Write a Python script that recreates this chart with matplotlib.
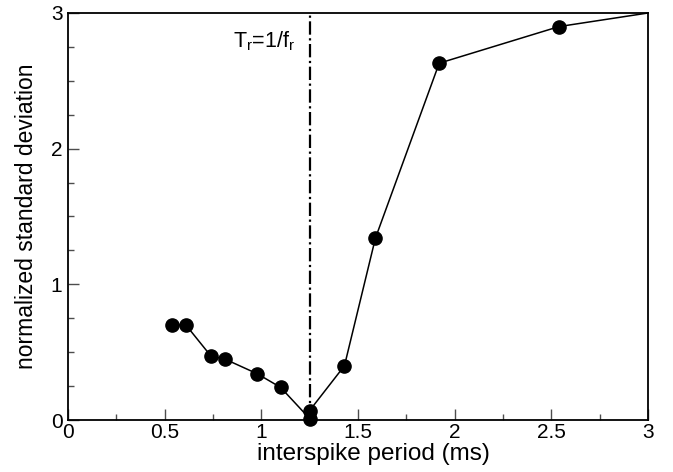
import matplotlib
matplotlib.use('Agg')
import matplotlib.pyplot as plt
from matplotlib.ticker import MultipleLocator

plt.rcParams['font.family'] = ['Liberation Sans', 'DejaVu Sans']
plt.rcParams['mathtext.fontset'] = 'custom'
plt.rcParams['mathtext.rm'] = 'Liberation Sans'
plt.rcParams['mathtext.it'] = 'Liberation Sans'

# interspike period (ms) vs normalized standard deviation
period = [0.54, 0.61, 0.74, 0.81, 0.98, 1.10, 1.25, 1.25, 1.43, 1.59, 1.92, 2.54, 3.0]
norm_std = [0.70, 0.70, 0.47, 0.45, 0.34, 0.24, 0.01, 0.07, 0.40, 1.34, 2.63, 2.90, 3.0]
T_r = 1.25

fig = plt.figure(figsize=(6.73, 4.72), dpi=100)
ax = fig.add_axes([68/673, 1 - 420/472, 580/673, 407/472])

ax.plot(period, norm_std, color='black', lw=1.1, marker='o', ms=9.5,
        markevery=slice(0, len(period) - 1), clip_on=False, zorder=3)
ax.axvline(T_r, color='black', lw=1.6, dashes=(6, 1.6, 1, 1.6))
ax.text(0.855, 2.79, r'$\mathregular{T_r}$=1/$\mathregular{f_r}$', fontsize=15.5,
        va='center', ha='left')

ax.set_xlim(0, 3)
ax.set_ylim(0, 3)
ax.xaxis.set_major_locator(MultipleLocator(0.5))
ax.xaxis.set_minor_locator(MultipleLocator(0.25))
ax.yaxis.set_major_locator(MultipleLocator(1))
ax.yaxis.set_minor_locator(MultipleLocator(0.25))
ax.xaxis.set_major_formatter(plt.FuncFormatter(lambda v, p: '%g' % v))
ax.yaxis.set_major_formatter(plt.FuncFormatter(lambda v, p: '%g' % v))
ax.tick_params(which='both', direction='in', top=False, right=False,
               labelsize=15, color='0.3')
ax.tick_params(which='major', length=8, width=1)
ax.tick_params(which='minor', length=4, width=1)
ax.tick_params(axis='x', which='major', pad=2.5)
ax.tick_params(axis='y', which='major', pad=4)
for s in ax.spines.values():
    s.set_linewidth(1.3)

ax.set_xlabel('interspike period (ms)', fontsize=17.5)
ax.set_ylabel('normalized standard deviation', fontsize=16.5)
ax.xaxis.set_label_coords(0.526, -0.057)
ax.yaxis.set_label_coords(-0.052, 0.5)

fig.savefig('out.png', dpi=100)
